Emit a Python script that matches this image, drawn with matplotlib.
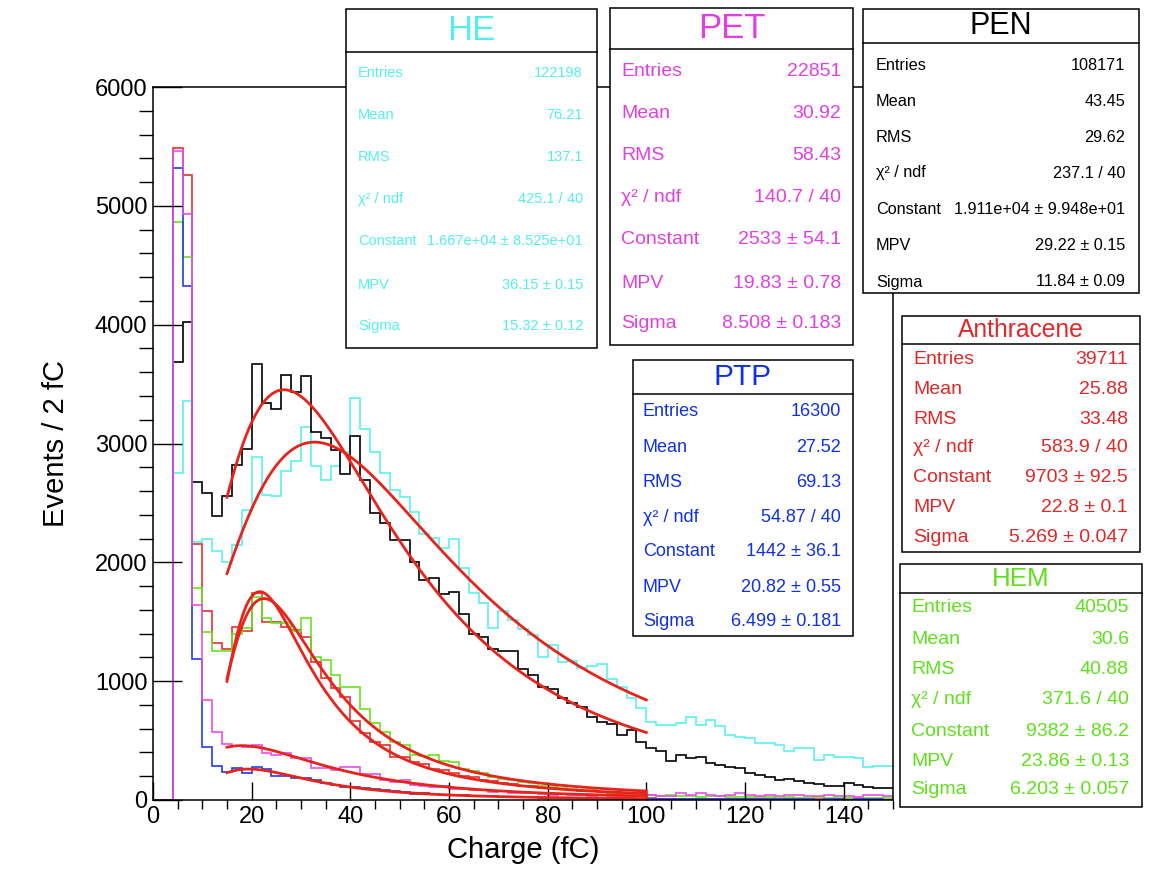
import numpy as np
import matplotlib.pyplot as plt
from matplotlib.patches import Rectangle
from matplotlib.lines import Line2D

plt.rcParams['font.family'] = ['Liberation Sans', 'DejaVu Sans']

# histogram binning: 2 fC bins from 0 to 150 fC
edges = np.arange(0, 152, 2)

# counts per bin
pen_counts = [0, 0, 3690, 4020, 2680, 2580, 2390, 2560, 2820, 2950,
              3665, 3345, 3290, 3580, 3430, 3570, 3100, 3050, 2945, 2745,
              3065, 2695, 2415, 2335, 2185, 2190, 2000, 1850, 1865, 1735,
              1750, 1565, 1395, 1375, 1268, 1255, 1255, 1100, 1055, 955,
              930, 860, 815, 780, 700, 655, 640, 547, 590, 491,
              440, 415, 328, 379, 351, 359, 309, 295, 275, 267,
              230, 210, 196, 168, 177, 160, 146, 132, 118, 118,
              140, 126, 112, 98, 98]
he_counts = [0, 0, 2750, 3355, 2175, 2200, 2095, 2000, 2150, 2440,
             2890, 2565, 2555, 2765, 2855, 3140, 2810, 2690, 2810, 2930,
             3385, 3120, 2925, 2750, 2610, 2547, 2425, 2236, 2208, 2123,
             2194, 1950, 1739, 1655, 1450, 1593, 1515, 1436, 1389, 1206,
             1304, 1164, 1172, 1108, 1130, 1144, 1016, 954, 856, 777,
             659, 631, 631, 645, 696, 631, 673, 623, 547, 533,
             519, 482, 477, 463, 415, 435, 435, 337, 379, 359,
             359, 351, 281, 289, 289]
pet_counts = [0, 0, 5465, 4930, 1640, 840, 570, 470, 455, 445,
              463, 393, 380, 393, 351, 351, 267, 267, 252, 280,
              280, 216, 216, 168, 154, 168, 126, 120, 110, 115,
              95, 90, 85, 80, 70, 75, 60, 55, 60, 50,
              45, 48, 40, 42, 35, 38, 30, 35, 28, 30,
              40, 35, 30, 55, 45, 55, 40, 35, 40, 55,
              45, 35, 40, 35, 40, 45, 35, 30, 40, 35,
              30, 25, 45, 40, 35]
ptp_counts = [0, 0, 5320, 4325, 1190, 445, 290, 233, 267, 224,
              280, 258, 202, 202, 182, 182, 168, 146, 126, 112,
              112, 98, 90, 84, 79, 70, 50, 55, 48, 45,
              40, 38, 35, 30, 32, 28, 25, 22, 24, 20,
              18, 20, 16, 15, 14, 15, 12, 10, 12, 10,
              12, 10, 8, 10, 9, 8, 10, 7, 8, 6,
              8, 7, 5, 6, 7, 5, 6, 4, 5, 6,
              4, 5, 6, 5, 4]
anth_counts = [0, 0, 5490, 5258, 2156, 1590, 1325, 1268, 1459, 1420,
               1740, 1500, 1500, 1460, 1430, 1375, 1165, 1025, 945, 870,
               665, 560, 490, 463, 365, 365, 323, 300, 265, 250,
               225, 200, 190, 170, 160, 145, 135, 120, 115, 105,
               100, 90, 85, 75, 72, 65, 60, 55, 52, 48,
               15, 12, 10, 12, 8, 10, 8, 6, 8, 6,
               5, 6, 5, 4, 6, 5, 4, 5, 3, 4,
               5, 3, 4, 3, 3]
hem_counts = [0, 0, 4865, 4567, 1780, 1410, 1255, 1255, 1400, 1450,
              1710, 1530, 1490, 1490, 1420, 1530, 1206, 1178, 1052, 954,
              954, 763, 645, 575, 491, 463, 379, 370, 380, 330,
              320, 265, 240, 225, 195, 180, 170, 150, 140, 120,
              115, 105, 95, 80, 80, 70, 60, 55, 50, 50,
              40, 35, 38, 30, 35, 28, 30, 32, 25, 28,
              25, 22, 25, 20, 22, 18, 20, 22, 15, 18,
              16, 20, 18, 15, 14]

# Landau fit parameters (Constant, MPV, Sigma) from the stat boxes
pen_fit = [1.911e4, 29.22, 11.84]
he_fit = [1.667e4, 36.15, 15.32]
pet_fit = [2533, 19.83, 8.508]
ptp_fit = [1442, 20.82, 6.499]
anth_fit = [9703, 22.8, 5.269]
hem_fit = [9382, 23.86, 6.203]
fit_range = [15, 100]

stat_labels = ['Entries', 'Mean', 'RMS', 'χ² / ndf', 'Constant', 'MPV', 'Sigma']
he_stats = ['122198', '76.21', '137.1', '425.1 / 40',
            '1.667e+04 ± 8.525e+01', '36.15 ± 0.15', '15.32 ± 0.12']
pet_stats = ['22851', '30.92', '58.43', '140.7 / 40',
             '2533 ± 54.1', '19.83 ± 0.78', '8.508 ± 0.183']
pen_stats = ['108171', '43.45', '29.62', '237.1 / 40',
             '1.911e+04 ± 9.948e+01', '29.22 ± 0.15', '11.84 ± 0.09']
ptp_stats = ['16300', '27.52', '69.13', '54.87 / 40',
             '1442 ± 36.1', '20.82 ± 0.55', '6.499 ± 0.181']
anth_stats = ['39711', '25.88', '33.48', '583.9 / 40',
              '9703 ± 92.5', '22.8 ± 0.1', '5.269 ± 0.047']
hem_stats = ['40505', '30.6', '40.88', '371.6 / 40',
             '9382 ± 86.2', '23.86 ± 0.13', '6.203 ± 0.057']


def landau(x, mpv, sigma):
    # ROOT TMath::Landau (unnormalised density) via its integral form
    lam = (np.asarray(x) - mpv) / sigma
    t = np.linspace(1e-6, 40, 40001)
    f = np.exp(-t * np.log(t) - np.outer(lam, t)) * np.sin(np.pi * t)
    return np.trapezoid(f, t, axis=1) / np.pi


W, H = 1164, 876
fig = plt.figure(figsize=(W / 100, H / 100), dpi=100)
ax = fig.add_axes([153 / W, 1 - 800 / H, 740 / W, 713 / H])

c_he = '#5cf0f0'
c_pet = '#e64fe6'
c_pen = '#000000'
c_ptp = '#1e3ee8'
c_anth = '#e8312b'
c_hem = '#68e41e'

hists = [(he_counts, c_he), (pen_counts, c_pen), (anth_counts, c_anth),
         (hem_counts, c_hem), (ptp_counts, c_ptp), (pet_counts, c_pet)]
for counts, col in hists:
    ax.stairs(counts, edges, color=col, lw=1.2, baseline=None)

xf = np.linspace(fit_range[0], fit_range[1], 300)
for p in [pen_fit, he_fit, anth_fit, hem_fit, pet_fit, ptp_fit]:
    ax.plot(xf, p[0] * landau(xf, p[1], p[2]), color='#e8231c', lw=2.0)

ax.set_xlim(0, 150)
ax.set_ylim(0, 6000)
ax.set_xticks(np.arange(0, 141, 20))
ax.set_xticks(np.arange(0, 151, 5), minor=True)
ax.set_yticks(np.arange(0, 6001, 1000))
ax.set_yticks(np.arange(0, 6001, 200), minor=True)
ax.tick_params(direction='in', labelsize=17, width=1.0, pad=4)
ax.tick_params(axis='y', which='major', length=21)
ax.tick_params(axis='y', which='minor', length=10, width=1.0)
ax.tick_params(axis='x', which='major', length=13)
ax.tick_params(axis='x', which='minor', length=6.5, width=1.0)
for s in ax.spines.values():
    s.set_linewidth(1.1)
ax.set_xlabel('Charge (fC)', fontsize=21, labelpad=6)
ax.set_ylabel('Events / 2 fC', fontsize=21, labelpad=18)


def fx(x):
    return x / W


def fy(y):
    return 1 - y / H


def stat_box(x0, y0, x1, y1, ydiv, title, tsize, color, values, lx, vx, ys, bsize):
    fig.add_artist(Rectangle((fx(x0), fy(y1)), fx(x1) - fx(x0), fy(y0) - fy(y1),
                             transform=fig.transFigure, facecolor='white',
                             edgecolor='black', lw=1.1, zorder=5))
    fig.add_artist(Line2D([fx(x0), fx(x1)], [fy(ydiv), fy(ydiv)],
                          transform=fig.transFigure, color='black', lw=1.1, zorder=6))
    fig.text(fx((x0 + x1) / 2), fy((y0 + ydiv) / 2), title, color=color,
             fontsize=tsize, ha='center', va='center', zorder=7)
    for lab, val, y in zip(stat_labels, values, ys):
        fig.text(fx(lx), fy(y), lab, color=color, fontsize=bsize,
                 ha='left', va='center', zorder=7)
        fig.text(fx(vx), fy(y), val, color=color, fontsize=bsize,
                 ha='right', va='center', zorder=7)


stat_box(346, 9, 597, 348, 52, 'HE', 25, '#55eeee', he_stats, 358, 583,
         [73, 115, 157, 199, 241, 285, 326], 10.5)
stat_box(610, 8, 853, 345, 49, 'PET', 25, '#e040e0', pet_stats, 621, 841,
         [71, 113, 156, 198, 240, 283, 323], 14)
stat_box(863, 9, 1139, 293, 43, 'PEN', 22, '#000000', pen_stats, 876, 1125,
         [65, 101, 137, 173, 209, 245, 282], 11.7)
stat_box(633, 360, 853, 636, 394, 'PTP', 21.5, '#1030e8', ptp_stats, 643, 841,
         [412, 447, 482, 517, 552, 587, 621], 13)
stat_box(902, 316, 1140, 552, 344, 'Anthracene', 17.7, '#e02828', anth_stats, 913, 1128,
         [360, 390, 420, 448, 478, 508, 537], 14)
stat_box(900, 564, 1142, 807, 593, 'HEM', 18.7, '#5ee01a', hem_stats, 911, 1129,
         [608, 639, 670, 700, 731, 762, 790], 14)

fig.savefig('out.png', dpi=100)
